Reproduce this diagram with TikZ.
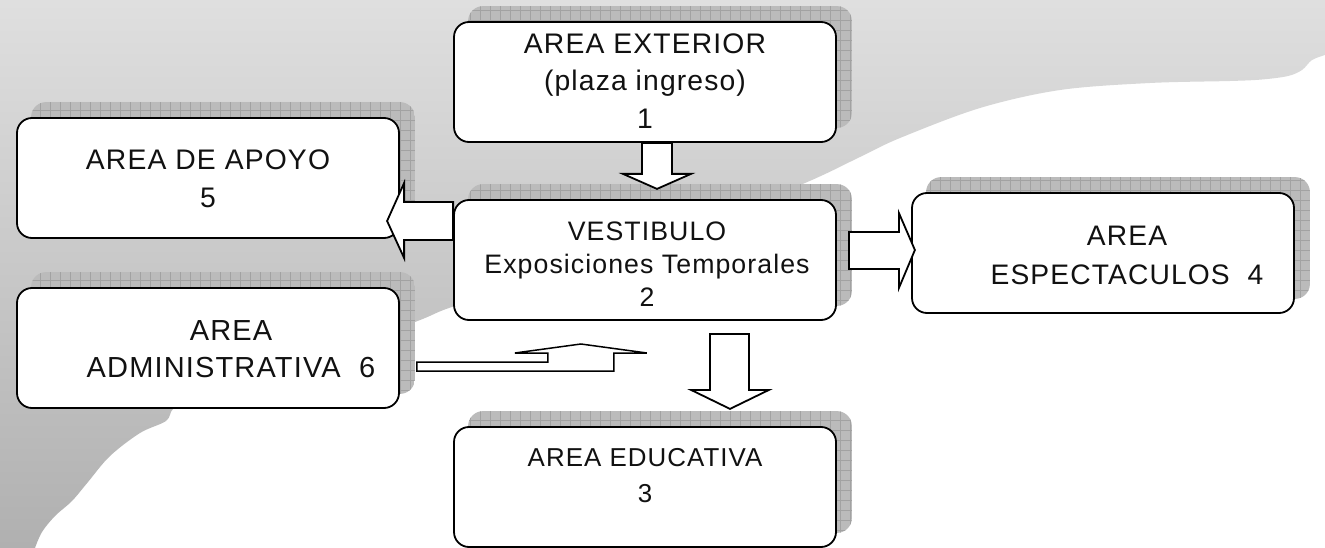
\documentclass[tikz,border=0pt]{standalone}
\usepackage{fontspec}
\setmainfont{Liberation Sans}[LetterSpace=4]
\usetikzlibrary{calc}
\pgfdeclarelayer{background}
\pgfsetlayers{background,main}
\definecolor{shadowfill}{HTML}{BBBBBB}
\definecolor{shadowgrid}{HTML}{A2A2A2}
\definecolor{txtcol}{HTML}{111111}
\newcommand\boxshade[1]{%
  \begin{scope}
    \clip[rounded corners=15pt] ($(#1.south west)+(15,-15)$) rectangle ($(#1.north east)+(15,-15)$);
    \fill[shadowfill] ($(#1.south west)+(15,-15)$) rectangle ($(#1.north east)+(15,-15)$);
    \draw[shadowgrid, line width=0.6pt, step=10pt] ($(#1.south west)+(5,-5)$) grid ($(#1.north east)+(25,-25)$);
  \end{scope}}
\begin{document}
\begin{tikzpicture}[x=1pt,y=-1pt,
  area/.style={draw=black, line width=1.8pt, fill=white, rounded corners=15pt,
    minimum width=382pt, minimum height=120pt, inner sep=0pt},
  txt/.style={text=txtcol, align=center, inner sep=0pt},
  blockarrow/.style={draw=black, fill=white, line width=1.8pt, line join=miter},
  thinarrow/.style={draw=black, fill=white, line width=1.5pt, line join=miter}]
\useasboundingbox (0,0) rectangle (1325,548);

% boxes
\node[area] (b1) at (645,82) {};
\node[area] (b5) at (208,178) {};
\node[area] (b2) at (645,260) {};
\node[area] (b4) at (1103,253) {};
\node[area] (b6) at (208,348) {};
\node[area] (b3) at (645,487) {};

% texts
\node[txt, font=\fontsize{28.3}{37.5}\selectfont] (t1) at (645,81) {AREA EXTERIOR\\(plaza ingreso)\\1};
\node[txt, font=\fontsize{28.3}{38}\selectfont] (t5) at (208,179) {AREA DE APOYO\\5};
\node[txt, font=\fontsize{26.7}{33}\selectfont] (t2) at (647,264) {VESTIBULO\\Exposiciones Temporales\\2};
\node[txt, font=\fontsize{28.2}{39}\selectfont] (t4) at (1127,255.5) {AREA\\ESPECTACULOS\ \ 4};
\node[txt, font=\fontsize{29}{37}\selectfont] (t6) at (231,349.5) {AREA\\ADMINISTRATIVA\ \ 6};
\node[txt, font=\fontsize{25.9}{36}\selectfont] (t3) at (645,476) {AREA EDUCATIVA\\3};

% block arrows
\draw[blockarrow] ($(b1.south)+(-3,0)$) -- ++(30,0) -- ++(0,31) -- ++(19,0) -- ++(-34,15) -- ++(-34,-15) -- ++(19,0) -- cycle;
\draw[blockarrow] ($(b2.west)+(0,-58)$) -- ++(-49,0) -- ++(0,-19) -- ++(-17,38) -- ++(17,37) -- ++(0,-18) -- ++(49,0) -- cycle;
\draw[blockarrow] ($(b2.east)+(12,-28)$) -- ++(50,0) -- ++(0,-19) -- ++(16,37) -- ++(-16,38) -- ++(0,-19) -- ++(-50,0) -- cycle;
\draw[blockarrow] ($(b2.south)+(65,13)$) -- ++(39,0) -- ++(0,56) -- ++(20,0) -- ++(-39,19) -- ++(-39,-19) -- ++(19,0) -- cycle;
\draw[thinarrow] ($(b6.east)+(17,14)$) -- ++(131,0) -- ++(0,-9) -- ++(-33,0) -- ++(66,-9) -- ++(66,9) -- ++(-33,0) -- ++(0,18) -- ++(-197,0) -- cycle;

\begin{pgfonlayer}{background}
\fill[white] (0,0) rectangle (1325,548);
\shade[top color=gray!25, bottom color=gray!62]
  (0,0) -- (1325,0) -- (1325,55) -- plot[smooth, tension=0.55] coordinates {
  (1325,55) (1312,60) (1302,70) (1288,76) (1262,79.5) (1230,81) (1150,83)
  (1060,90) (980,108) (900,138) (860,157) (805,183) (700,225) (560,275)
  (455,306) (415,322) (300,365) (190,402) (173,409) (166,421) (140,433)
  (110,456) (88,482) (72,501) (55,516) (42,532) (35,548)} -- (0,548) -- cycle;
\boxshade{b1}
\boxshade{b5}
\boxshade{b2}
\boxshade{b4}
\boxshade{b6}
\boxshade{b3}
\end{pgfonlayer}
\end{tikzpicture}
\end{document}
